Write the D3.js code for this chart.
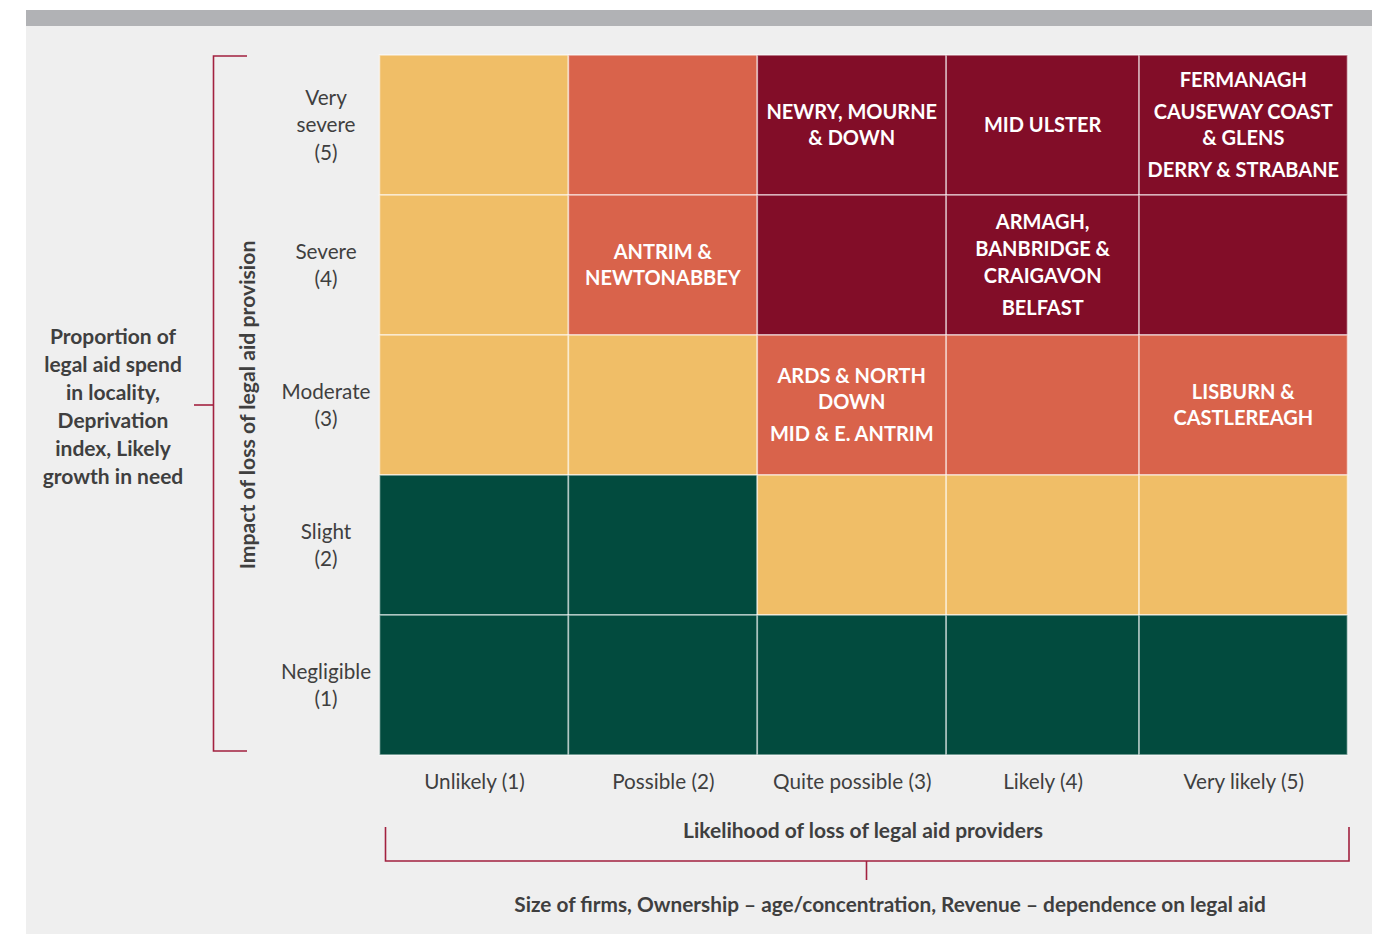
<!DOCTYPE html>
<html>
<head>
<meta charset="utf-8">
<script src="https://cdn.jsdelivr.net/npm/d3@7"></script>
<style>
  html, body { margin: 0; padding: 0; background: #ffffff; }
  svg { display: block; }
  text { font-family: "Lato", "Open Sans", sans-serif; }
</style>
</head>
<body>
<svg id="chart" width="1385" height="934"></svg>
<script>
// ---------------- DATA ----------------
const likelihood = ["Unlikely (1)", "Possible (2)", "Quite possible (3)", "Likely (4)", "Very likely (5)"];
const impact = [["Very", "severe", "(5)"], ["Severe", "(4)"], ["Moderate", "(3)"], ["Slight", "(2)"], ["Negligible", "(1)"]];
const impactKeys = ["5", "4", "3", "2", "1"];
// risk level per row (impact 5 -> 1), per column (likelihood 1 -> 5)
const riskRow5 = ["amber", "high", "severe", "severe", "severe"];
const riskRow4 = ["amber", "high", "severe", "severe", "severe"];
const riskRow3 = ["amber", "amber", "high", "high", "high"];
const riskRow2 = ["low", "low", "amber", "amber", "amber"];
const riskRow1 = ["low", "low", "low", "low", "low"];
// cell labels: [impact, likelihood, groups of lines]
const cellLabels = [
  ["5", 3, [["NEWRY, MOURNE", "& DOWN"]]],
  ["5", 4, [["MID ULSTER"]]],
  ["5", 5, [["FERMANAGH"], ["CAUSEWAY COAST", "& GLENS"], ["DERRY & STRABANE"]]],
  ["4", 2, [["ANTRIM &", "NEWTONABBEY"]]],
  ["4", 4, [["ARMAGH,", "BANBRIDGE &", "CRAIGAVON"], ["BELFAST"]]],
  ["3", 3, [["ARDS & NORTH", "DOWN"], ["MID & E. ANTRIM"]]],
  ["3", 5, [["LISBURN &", "CASTLEREAGH"]]]
];
const yTitle = "Impact of loss of legal aid provision";
const yOuterTitle = ["Proportion of", "legal aid spend", "in locality,", "Deprivation", "index, Likely", "growth in need"];
const xTitle = "Likelihood of loss of legal aid providers";
const xOuterTitle = "Size of firms, Ownership \u2013 age/concentration, Revenue \u2013 dependence on legal aid";

// ---------------- STYLE / LAYOUT ----------------
const colors = { low: "#024b3e", amber: "#f0be67", high: "#d9634b", severe: "#820d28" };
const colWeights = [189, 189, 189, 193, 208.5];
const grid = { x0: 379.5, y0: 55, x1: 1347.5, y1: 755 };
const bracketColor = "#a2213f";
const textGray = "#3f3f3f";
const labelSize = 20.7;
const titleSize = 21;

const svg = d3.select("#chart");

// background
svg.append("rect").attr("x", 26).attr("y", 10).attr("width", 1346).attr("height", 924).attr("fill", "#efefef");
svg.append("rect").attr("x", 26).attr("y", 10).attr("width", 1346).attr("height", 16).attr("fill", "#b1b2b5");

// scales
const cum = [0];
colWeights.forEach(w => cum.push(cum[cum.length - 1] + w));
const xLin = d3.scaleLinear().domain([0, cum[cum.length - 1]]).range([grid.x0, grid.x1]);
const colLeft = i => xLin(cum[i]);
const colRight = i => xLin(cum[i + 1]);
const xCenter = d3.scaleOrdinal().domain(likelihood).range(likelihood.map((d, i) => (colLeft(i) + colRight(i)) / 2));
const y = d3.scaleBand().domain(impactKeys).range([grid.y0, grid.y1]);

const riskRows = [riskRow5, riskRow4, riskRow3, riskRow2, riskRow1];
const cells = [];
riskRows.forEach((row, r) => row.forEach((lvl, c) => cells.push({ imp: impactKeys[r], col: c, lvl })));

svg.append("g").selectAll("rect").data(cells).join("rect")
  .attr("x", d => colLeft(d.col))
  .attr("y", d => y(d.imp))
  .attr("width", d => colRight(d.col) - colLeft(d.col))
  .attr("height", y.bandwidth())
  .attr("fill", d => colors[d.lvl])
  .attr("stroke", "rgba(255,255,255,0.55)")
  .attr("stroke-width", 1.6);

// cell labels
const lineGap = 26.8, groupGap = 32;
const lg = svg.append("g");
cellLabels.forEach(([imp, col, groups]) => {
  const cx = (colLeft(col - 1) + colRight(col - 1)) / 2;
  const cy = y(imp) + y.bandwidth() / 2;
  const offs = [];
  let pos = 0;
  groups.forEach((g, gi) => {
    g.forEach((line, li) => {
      if (gi > 0 && li === 0) pos += groupGap; else if (offs.length) pos += lineGap;
      offs.push({ line, pos });
    });
  });
  const mid = pos / 2;
  offs.forEach(o => {
    lg.append("text")
      .attr("x", cx).attr("y", cy + o.pos - mid)
      .attr("dy", "0.35em")
      .attr("text-anchor", "middle")
      .attr("fill", "#ffffff")
      .attr("font-weight", 700)
      .attr("font-size", 20)
      .text(o.line);
  });
});

// bottom axis
const xAxis = svg.append("g").attr("transform", `translate(0,${grid.y1})`)
  .call(d3.axisBottom(xCenter).tickSize(0).tickPadding(19));
xAxis.select(".domain").remove();
xAxis.selectAll("text").attr("font-size", labelSize).attr("fill", textGray)
  .attr("font-family", "Lato, 'Open Sans', sans-serif");

// left axis
const yAxis = svg.append("g").attr("transform", `translate(326,0)`)
  .call(d3.axisLeft(y).tickSize(0).tickFormat(""));
yAxis.select(".domain").remove();
yAxis.selectAll(".tick").each(function (d, i) {
  const lines = impact[i];
  const t = d3.select(this).select("text")
    .attr("text-anchor", "middle").attr("x", 0)
    .attr("font-size", labelSize).attr("fill", textGray)
    .attr("font-family", "Lato, 'Open Sans', sans-serif");
  const lh = 27.5;
  const start = -((lines.length - 1) * lh) / 2;
  lines.forEach((l, j) => {
    t.append("tspan").attr("x", 0).attr("y", start + j * lh).attr("dy", "0.35em").text(l);
  });
});

// rotated title
svg.append("text")
  .attr("transform", `translate(248,${(grid.y0 + grid.y1) / 2}) rotate(-90)`)
  .attr("text-anchor", "middle").attr("dy", "0.35em")
  .attr("font-size", 21.2).attr("font-weight", 700).attr("fill", textGray)
  .text(yTitle);

// left bracket
const lb = svg.append("g").attr("stroke", bracketColor).attr("stroke-width", 1.6).attr("fill", "none");
lb.append("path").attr("d", `M247,${grid.y0 + 1} H213.5 V${grid.y1 - 4} H247`);
lb.append("path").attr("d", `M194,${(grid.y0 + grid.y1) / 2} H213.5`);

// outer left title
const ot = svg.append("text").attr("text-anchor", "middle")
  .attr("font-size", titleSize).attr("font-weight", 700).attr("fill", textGray);
yOuterTitle.forEach((l, j) => {
  ot.append("tspan").attr("x", 113).attr("y", 337 + j * 28).attr("dy", "0.35em").text(l);
});

// x title
svg.append("text").attr("x", 863).attr("y", 831).attr("dy", "0.35em")
  .attr("text-anchor", "middle").attr("font-size", titleSize).attr("font-weight", 700).attr("fill", textGray)
  .text(xTitle);

// bottom bracket
const bb = svg.append("g").attr("stroke", bracketColor).attr("stroke-width", 1.6).attr("fill", "none");
bb.append("path").attr("d", `M385.5,827 V861 H1349 V827`);
bb.append("path").attr("d", `M866.5,861 V880`);

// outer x title
svg.append("text").attr("x", 890).attr("y", 905).attr("dy", "0.35em")
  .attr("text-anchor", "middle").attr("font-size", 20.8).attr("font-weight", 700).attr("fill", textGray)
  .text(xOuterTitle);
</script>
</body>
</html>
